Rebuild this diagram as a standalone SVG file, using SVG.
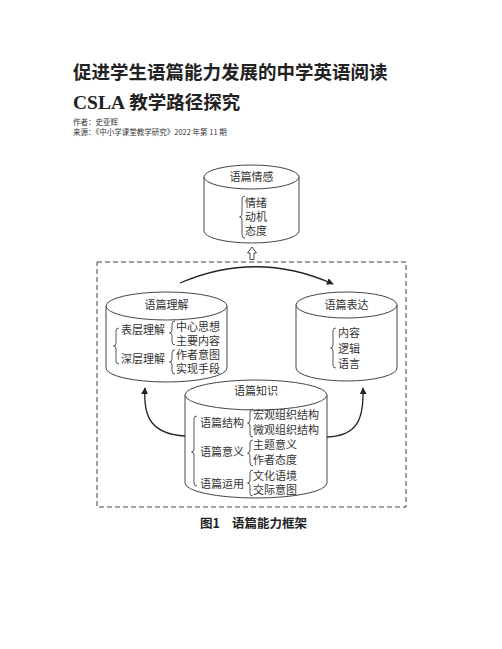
<svg xmlns="http://www.w3.org/2000/svg" width="502" height="649" viewBox="0 0 502 649">
<defs>
<style>
.t{font-family:"Noto Sans CJK SC","Noto Sans",sans-serif;fill:#222;}
.h{font-weight:bold;font-size:18.5px;}
.s{font-size:7.5px;fill:#333;}
.n{font-family:"Liberation Sans","Noto Sans CJK SC",sans-serif;font-size:11px;dominant-baseline:central;fill:#333;}
.cap{font-size:12.5px;font-weight:bold;dominant-baseline:central;}
.cyl{fill:#fff;stroke:#444;stroke-width:1;}
.br{fill:none;stroke:#444;stroke-width:0.9;}
.con{fill:none;stroke:#222;stroke-width:1.3;}
</style>
<marker id="ah" viewBox="0 0 10 10" refX="9" refY="5" markerWidth="7" markerHeight="7" markerUnits="userSpaceOnUse" orient="auto">
<path d="M0,0 L10,5 L0,10 Z" fill="#222"/>
</marker>
</defs>
<rect width="502" height="649" fill="#fff"/>

<g id="header">
<text class="t h" x="73" y="79">促进学生语篇能力发展的中学英语阅读</text>
<text class="t h" x="73" y="109"><tspan font-family="Liberation Serif" font-size="19.5">CSLA</tspan> 教学路径探究</text>
<text class="t s" x="73" y="125">作者：史亚辉</text>
<text class="t s" x="73" y="135">来源：《中小学课堂教学研究》2022 年第 11 期</text>
</g>

<rect id="frame" x="97" y="262" width="309" height="245" fill="none" stroke="#444" stroke-width="1" stroke-dasharray="5,3"/>

<g id="connectors">
<path class="con" d="M180,283 Q257,250 333,284" marker-end="url(#ah)"/>
<path class="con" d="M185,436 C152,434 143,418 145,388" marker-end="url(#ah)"/>
<path class="con" d="M327,437 C358,436 364,418 363,388" marker-end="url(#ah)"/>
<path d="M252,247 L256.5,253 L254,253 L254,259.5 L250,259.5 L250,253 L247.5,253 Z" fill="#fff" stroke="#333" stroke-width="0.9"/>
</g>

<g id="emotion">
<path class="cyl" d="M204,177 V231 A47.5,12 0 0 0 299,231 V177"/>
<ellipse class="cyl" cx="251.5" cy="177" rx="47.5" ry="12"/>
<text class="t n" x="251.5" y="177" text-anchor="middle">语篇情感</text>
<path class="br" d="M245,196 Q242,196 242,199 V214 Q242,217 239.5,217 Q242,217 242,220 V235 Q242,238 245,238"/>
<text class="t n" x="245" y="203">情绪</text>
<text class="t n" x="245" y="217">动机</text>
<text class="t n" x="245" y="231">态度</text>
</g>

<g id="understanding">
<path class="cyl" d="M106,306 V368 A60.5,14 0 0 0 227,368 V306"/>
<ellipse class="cyl" cx="166.5" cy="306" rx="60.5" ry="14"/>
<text class="t n" x="166.5" y="305" text-anchor="middle">语篇理解</text>
<path class="br" d="M119,328 Q116,328 116,331 V343 Q116,346 113.5,346 Q116,346 116,349 V361 Q116,364 119,364"/>
<text class="t n" x="121" y="330">表层理解</text>
<text class="t n" x="121" y="359">深层理解</text>
<path class="br" d="M175,321 Q172,321 172,324 V330 Q172,333 169.5,333 Q172,333 172,336 V342 Q172,345 175,345"/>
<path class="br" d="M175,350 Q172,350 172,353 V359 Q172,362 169.5,362 Q172,362 172,365 V371 Q172,374 175,374"/>
<text class="t n" x="176" y="327">中心思想</text>
<text class="t n" x="176" y="341">主要内容</text>
<text class="t n" x="176" y="355">作者意图</text>
<text class="t n" x="176" y="369">实现手段</text>
</g>

<g id="expression">
<path class="cyl" d="M296,305 V368 A50.5,13 0 0 0 397,368 V305"/>
<ellipse class="cyl" cx="346.5" cy="305" rx="50.5" ry="13"/>
<text class="t n" x="346.5" y="305" text-anchor="middle">语篇表达</text>
<path class="br" d="M336,328 Q333,328 333,331 V345 Q333,348 330.5,348 Q333,348 333,351 V365 Q333,368 336,368"/>
<text class="t n" x="338" y="333">内容</text>
<text class="t n" x="338" y="349">逻辑</text>
<text class="t n" x="338" y="364">语言</text>
</g>

<g id="knowledge">
<path class="cyl" d="M185,395 V483 A71,15 0 0 0 327,483 V395"/>
<ellipse class="cyl" cx="256" cy="395" rx="71" ry="15"/>
<text class="t n" x="256" y="391" text-anchor="middle">语篇知识</text>
<path class="br" d="M197,416 Q194,416 194,419 V449 Q194,452 191.5,452 Q194,452 194,455 V483 Q194,486 197,486"/>
<text class="t n" x="200" y="423">语篇结构</text>
<text class="t n" x="200" y="452">语篇意义</text>
<text class="t n" x="200" y="484">语篇运用</text>
<path class="br" d="M253,409 Q250,409 250,412 V420 Q250,423 247.5,423 Q250,423 250,426 V434 Q250,437 253,437"/>
<path class="br" d="M253,440 Q250,440 250,443 V450 Q250,453 247.5,453 Q250,453 250,456 V463 Q250,466 253,466"/>
<path class="br" d="M253,470 Q250,470 250,473 V480 Q250,483 247.5,483 Q250,483 250,486 V493 Q250,496 253,496"/>
<text class="t n" x="253" y="415">宏观组织结构</text>
<text class="t n" x="253" y="430">微观组织结构</text>
<text class="t n" x="253" y="445">主题意义</text>
<text class="t n" x="253" y="460">作者态度</text>
<text class="t n" x="253" y="476">文化语境</text>
<text class="t n" x="253" y="490">交际意图</text>
</g>

<g id="caption">
<text class="t cap" x="200" y="522">图1</text>
<text class="t cap" x="232" y="522">语篇能力框架</text>
</g>
</svg>
